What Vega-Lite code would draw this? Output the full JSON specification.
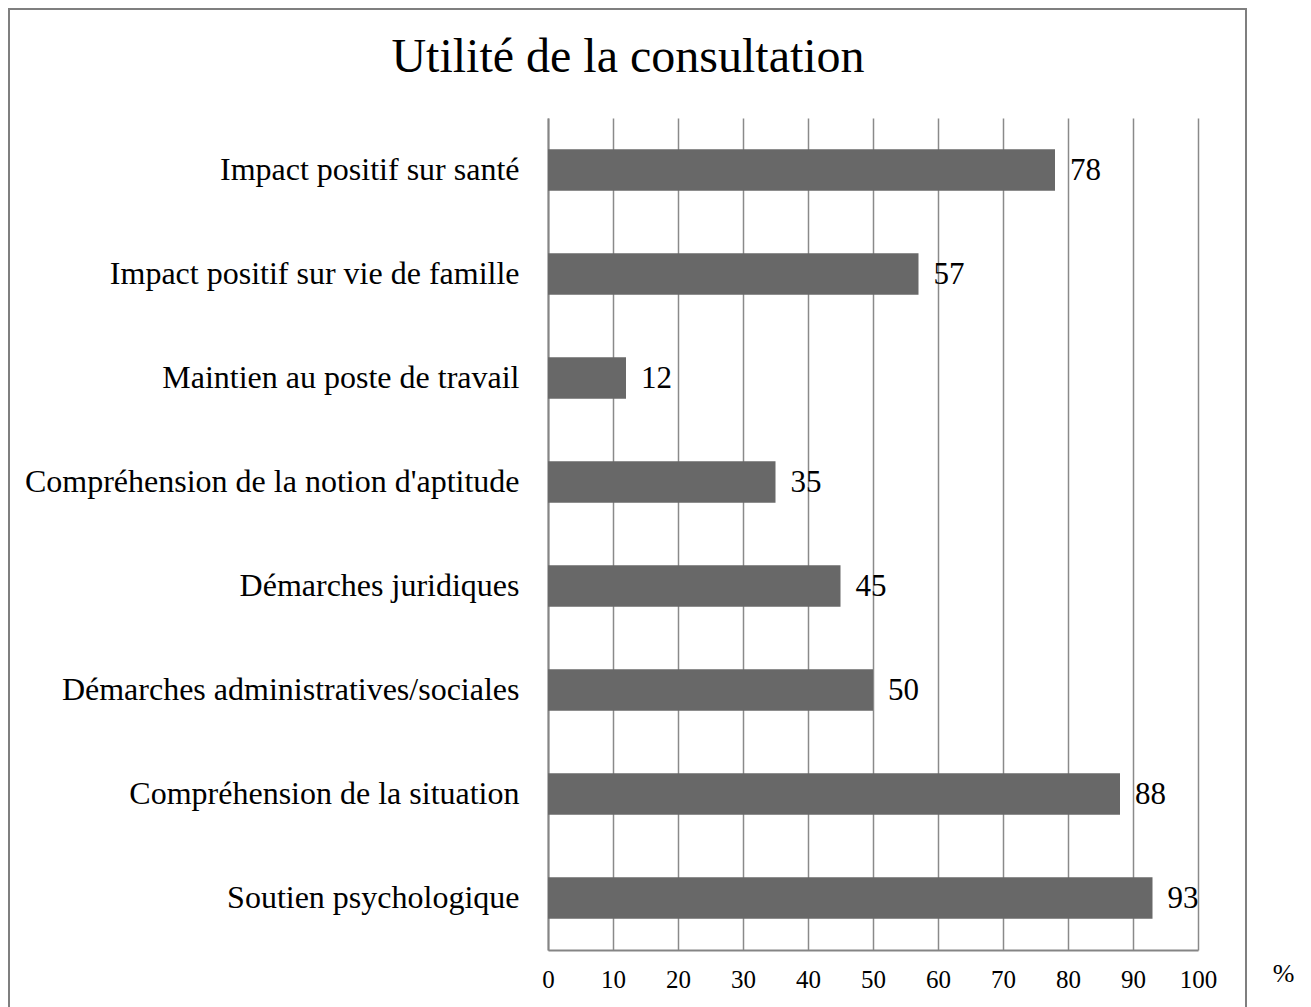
{
  "$schema": "https://vega.github.io/schema/vega-lite/v6.json",
  "autosize": "none",
  "width": 650,
  "height": 832,
  "padding": {"left": 548, "top": 118, "right": 113, "bottom": 57},
  "background": "white",
  "config": {"view": {"stroke": null}, "font": "Liberation Serif"},
  "title": {
    "text": "Utilité de la consultation",
    "font": "Liberation Serif",
    "fontSize": 48,
    "fontWeight": "normal",
    "color": "black",
    "anchor": "middle",
    "frame": "group",
    "baseline": "alphabetic",
    "dx": -245,
    "offset": -112
  },
  "layer": [
    {
      "data": {"values": [{"frame": "border"}]},
      "mark": {"type": "rect", "fill": null, "stroke": "#7f7f7f", "strokeWidth": 2},
      "encoding": {
        "x": {"value": -539},
        "x2": {"value": 698},
        "y": {"value": -109},
        "y2": {"value": 905}
      }
    },
    {
      "data": {
        "values": [
          {"item": "Impact positif sur santé", "pct": 78},
          {"item": "Impact positif sur vie de famille", "pct": 57},
          {"item": "Maintien au poste de travail", "pct": 12},
          {"item": "Compréhension de la notion d'aptitude", "pct": 35},
          {"item": "Démarches juridiques", "pct": 45},
          {"item": "Démarches administratives/sociales", "pct": 50},
          {"item": "Compréhension de la situation", "pct": 88},
          {"item": "Soutien psychologique", "pct": 93}
        ]
      },
      "encoding": {
        "y": {
          "field": "item",
          "type": "nominal",
          "sort": null,
          "scale": {"paddingInner": 0.6, "paddingOuter": 0.3},
          "axis": {
            "title": null,
            "ticks": false,
            "domain": true,
            "domainColor": "#858585",
            "domainWidth": 2,
            "labelFont": "Liberation Serif",
            "labelFontSize": 32,
            "labelColor": "black",
            "labelPadding": 29,
            "labelLimit": 600
          }
        },
        "x": {
          "field": "pct",
          "type": "quantitative",
          "scale": {"domain": [0, 100], "nice": false},
          "axis": {
            "title": "%",
            "titleFont": "Liberation Serif",
            "titleFontSize": 26,
            "titleFontWeight": "normal",
            "titleColor": "black",
            "titleX": 735,
            "titleY": 23,
            "titleAlign": "center",
            "titleBaseline": "middle",
            "values": [0, 10, 20, 30, 40, 50, 60, 70, 80, 90, 100],
            "ticks": false,
            "domainColor": "#858585",
            "domainWidth": 2,
            "grid": true,
            "gridColor": "#8a8a8a",
            "gridWidth": 1.5,
            "labelFont": "Liberation Serif",
            "labelFontSize": 25,
            "labelColor": "black",
            "labelPadding": 17,
            "labelFlush": false
          }
        }
      },
      "layer": [
        {"mark": {"type": "bar", "color": "#686868"}},
        {
          "mark": {
            "type": "text",
            "align": "left",
            "baseline": "middle",
            "dx": 15,
            "dy": 1,
            "font": "Liberation Serif",
            "fontSize": 31,
            "color": "black"
          },
          "encoding": {"text": {"field": "pct", "type": "quantitative"}}
        }
      ]
    }
  ]
}
